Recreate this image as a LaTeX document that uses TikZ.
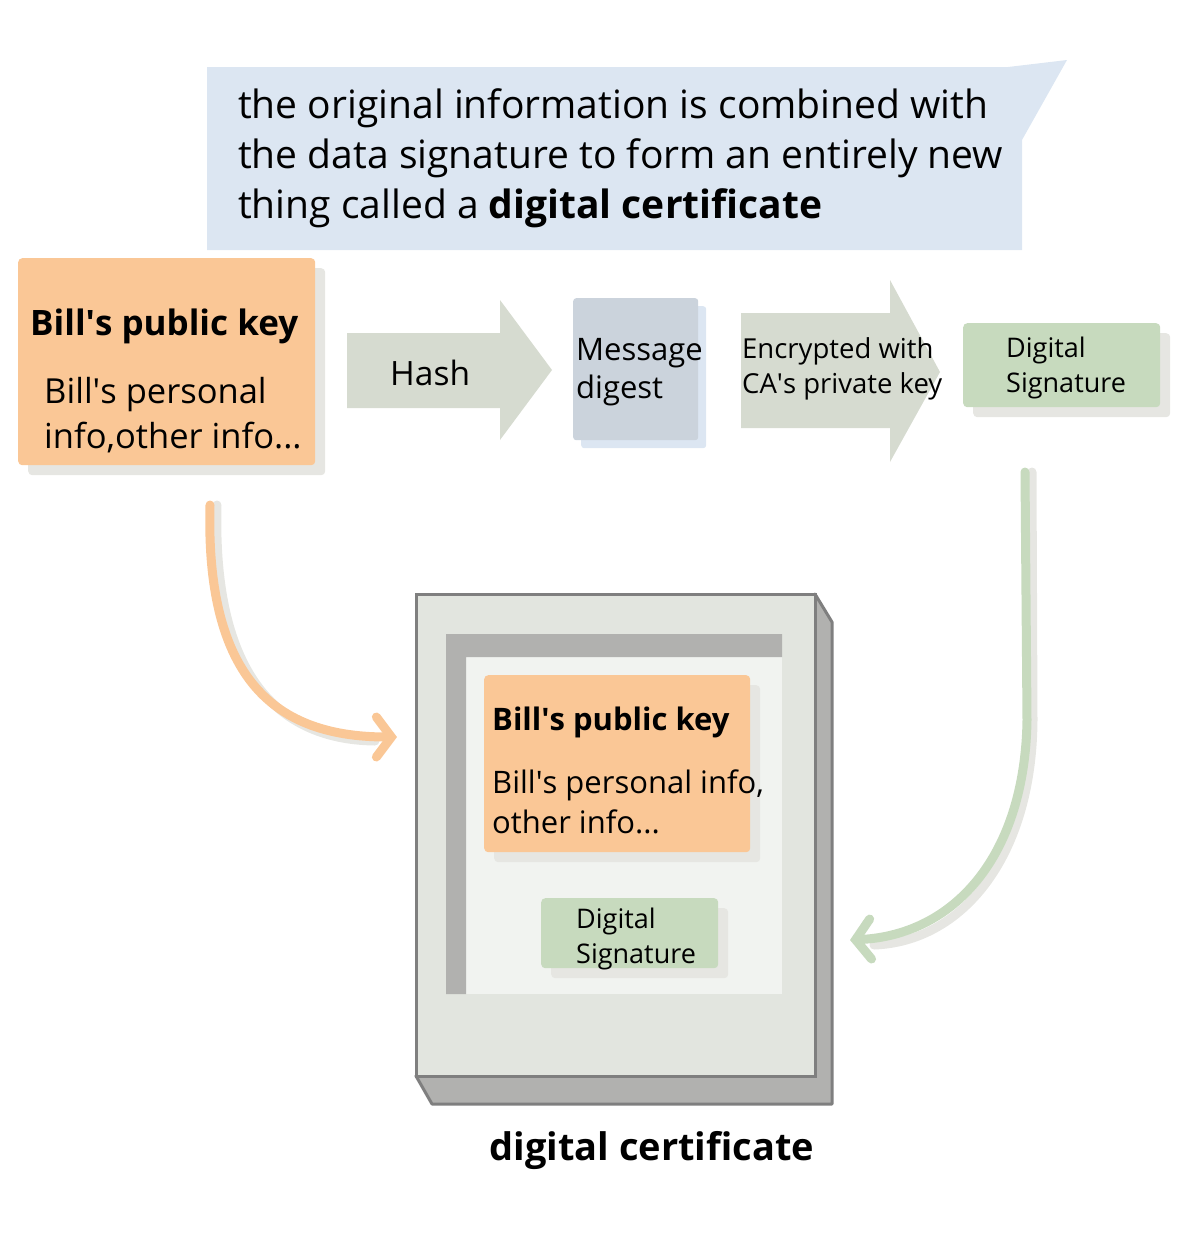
\documentclass[tikz,border=0pt]{standalone}
\usepackage{fontspec}
\setmainfont{Open Sans}
\usetikzlibrary{arrows.meta,shadows}
\definecolor{calloutblue}{HTML}{DCE6F2}
\definecolor{keyorange}{HTML}{FAC796}
\definecolor{siggreen}{HTML}{C7DABE}
\definecolor{stepgrey}{HTML}{D6DBD0}
\definecolor{digestblue}{HTML}{CBD3DC}
\definecolor{certface}{HTML}{E2E5DF}
\definecolor{certdark}{HTML}{B1B1AF}
\definecolor{certline}{HTML}{7F7F7F}
\definecolor{certinner}{HTML}{F1F3F0}
\definecolor{shadowgrey}{HTML}{E6E6E2}
\newcommand{\ap}{\textquotesingle}
\begin{document}
\begin{tikzpicture}[x=1pt,y=-1pt,
    boxshadow/.style={drop shadow={shadow xshift=10pt,shadow yshift=-10pt,fill=shadowgrey,opacity=1}},
    keybox/.style={fill=keyorange,rounded corners=4pt,boxshadow,inner sep=0pt,anchor=north west},
    sigbox/.style={fill=siggreen,rounded corners=4pt,boxshadow,inner sep=0pt,anchor=north west},
    label/.style={inner sep=0pt,anchor=base west,align=left},
    flow/.style={line width=9pt,line cap=round,-{Straight Barb[length=15pt,width=40pt,line cap=round]}},
    flowshadow/.style={line width=9pt,line cap=round,draw=shadowgrey}]
    \useasboundingbox (0,0) rectangle (1181,1240);

    % Sprechblase
    \fill[calloutblue] (207,67) -- (1008,67) -- (1067,60) -- (1022,140) -- (1022,250) -- (207,250) -- cycle;
    % (base = letzte Zeile)
    \node[label,font=\fontsize{39}{50}\selectfont] (note) at (238,218)
        {the original information is combined with\\the data signature to form an entirely new\\thing called a \textbf{digital certificate}};

    % Bills Daten
    \node[keybox,minimum width=297pt,minimum height=207pt] (key) at (18,258) {};
    \node[label,font=\bfseries\fontsize{35}{40}\selectfont] (keytitle) at (30,335) {Bill\ap s public key};
    \node[label,font=\fontsize{34.5}{45}\selectfont] (keyinfo) at (44,448) {Bill\ap s personal\\info,other info...};

    % Hash
    \fill[stepgrey] (347,333) -- (500,333) -- (500,300) -- (552,370) -- (500,440) -- (500,408) -- (347,408) -- cycle;
    \node[label,font=\fontsize{33.5}{40}\selectfont] (hash) at (390,385) {Hash};

    % Digest
    \node[fill=digestblue,inner sep=0pt,anchor=north west,minimum width=125pt,minimum height=142pt,rounded corners=3pt,
          drop shadow={shadow xshift=8pt,shadow yshift=-8pt,fill=calloutblue,opacity=1}] (digest) at (573,298) {};
    \node[label,font=\fontsize{31}{38}\selectfont] (digesttext) at (576,398) {Message\\digest};

    % Verschluesselung
    \fill[stepgrey] (741,313) -- (890,313) -- (890,280) -- (940,372) -- (890,462) -- (890,428) -- (741,428) -- cycle;
    \node[label,font=\fontsize{27.5}{35}\selectfont] (encrypt) at (742,393) {Encrypted with\\CA\ap s private key};

    % Signatur
    \node[sigbox,minimum width=197pt,minimum height=84pt] (sig) at (963,323) {};
    \node[label,font=\fontsize{27}{35}\selectfont] (sigtext) at (1006,392) {Digital\\Signature};

    % Zertifikat
    \draw[certline,line width=3pt,fill=certdark,line join=round] (815,594) -- (832,622) -- (832,1104) -- (432,1104) -- (416,1076) -- (815,1076) -- cycle;
    \draw[certline,line width=3pt,fill=certface] (416,594) rectangle (815,1076);
    \fill[certinner] (446,634) rectangle (782,994);
    \fill[certdark] (446,634) -- (782,634) -- (782,657) -- (466,657) -- (466,994) -- (446,994) -- cycle;
    \node[keybox,minimum width=266pt,minimum height=177pt] (certkey) at (484,675) {};
    \node[label,font=\bfseries\fontsize{31}{40}\selectfont] (certkeytitle) at (492,730) {Bill\ap s public key};
    \node[label,font=\fontsize{31}{40}\selectfont] (certkeyinfo) at (492,833) {Bill\ap s personal info,\\other info...};
    \node[sigbox,minimum width=177pt,minimum height=70pt] (certsig) at (541,898) {};
    \node[label,font=\fontsize{27}{35}\selectfont] (certsigtext) at (576,963) {Digital\\Signature};
    \node[label,font=\bfseries\fontsize{38}{40}\selectfont,anchor=base] (certname) at (652,1160) {digital certificate};

    % Pfeile
    \coordinate (keyout) at (210,505);
    \coordinate (keyin) at (397,737);
    \coordinate (sigout) at (1025,472);
    \coordinate (sigin) at (850,940);
    \draw[flowshadow] ([xshift=7pt]keyout) .. controls (212,690) and (290,740) .. ([xshift=-22pt,yshift=-4pt]keyin);
    \draw[flow,draw=keyorange] (keyout) .. controls (205,690) and (285,737) .. (keyin);
    \draw[flowshadow] ([xshift=7pt]sigout) -- (1033,720) .. controls (1032,860) and (960,942) .. ([xshift=24pt,yshift=-5pt]sigin);
    \draw[flow,draw=siggreen] (sigout) -- (1027,720) .. controls (1025,855) and (955,935) .. (sigin);
\end{tikzpicture}
\end{document}
